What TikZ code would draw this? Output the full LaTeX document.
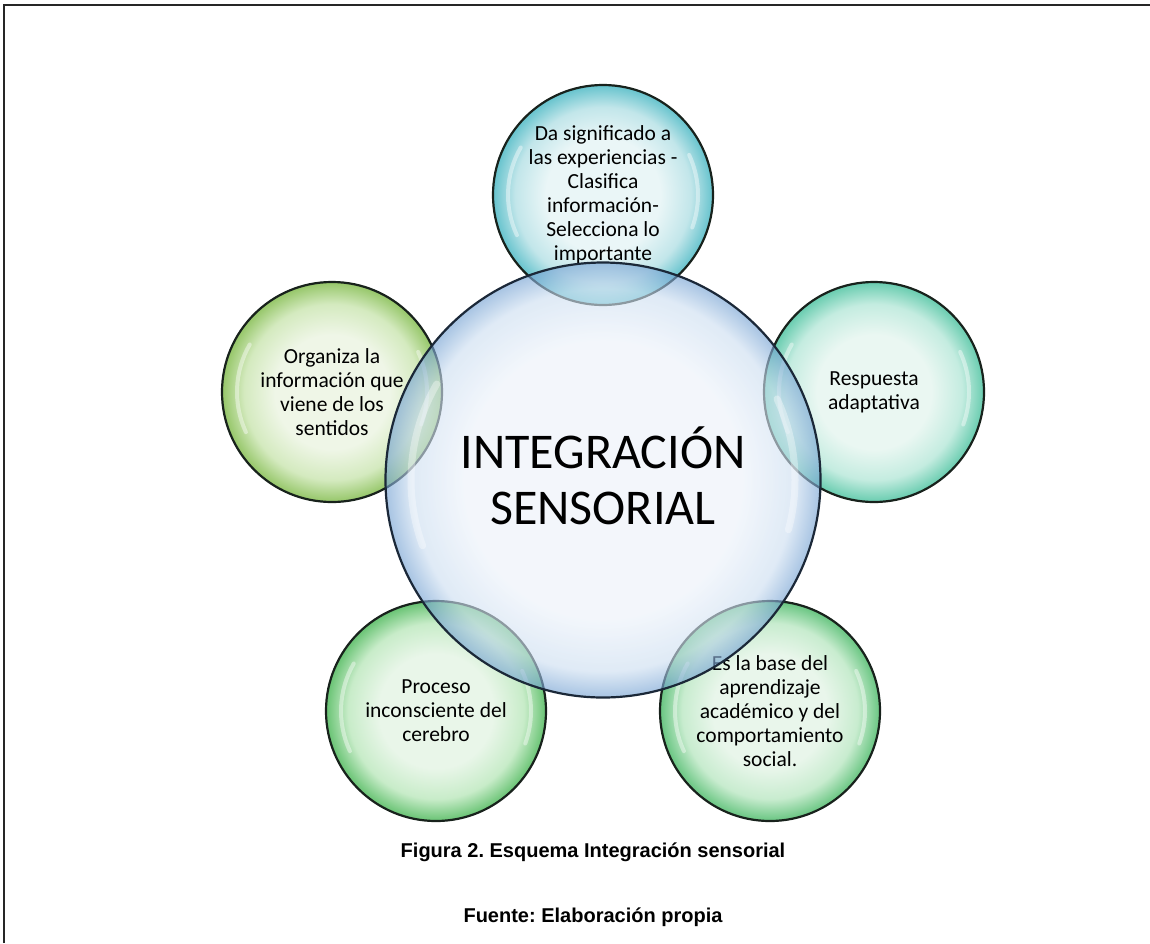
\documentclass[tikz,border=0pt]{standalone}
\usepackage{fontspec}
\setmainfont{Carlito}
\newfontfamily\captionfont{Liberation Sans}
\usetikzlibrary{calc}
\frenchspacing

% bubble colours: centre / middle / rim
\definecolor{topC}{HTML}{EAF6F7}\definecolor{topM}{HTML}{C2E6EA}\definecolor{topR}{HTML}{66C3CD}
\definecolor{rgtC}{HTML}{EAF7F2}\definecolor{rgtM}{HTML}{C4ECE0}\definecolor{rgtR}{HTML}{68CCAF}
\definecolor{lftC}{HTML}{EFF6E7}\definecolor{lftM}{HTML}{D4EABF}\definecolor{lftR}{HTML}{95C668}
\definecolor{blC}{HTML}{E9F6E9}\definecolor{blM}{HTML}{C8ECC9}\definecolor{blR}{HTML}{68C373}
\definecolor{brC}{HTML}{E9F6EB}\definecolor{brM}{HTML}{C8ECCF}\definecolor{brR}{HTML}{68C581}
\definecolor{corC}{HTML}{ECF2FA}\definecolor{corM}{HTML}{CCDEF1}\definecolor{corR}{HTML}{72A0D2}
\definecolor{rimline}{HTML}{18221C}
\definecolor{coreline}{HTML}{1B2838}

% radial bubbles: TikZ maps 25bp onto the rim of the circle
\pgfdeclareradialshading{bubTop}{\pgfpoint{0bp}{0bp}}{color(0bp)=(topC);color(13bp)=(topC);color(20bp)=(topM);color(25bp)=(topR);color(50bp)=(topR)}
\pgfdeclareradialshading{bubRgt}{\pgfpoint{0bp}{0bp}}{color(0bp)=(rgtC);color(13bp)=(rgtC);color(20bp)=(rgtM);color(25bp)=(rgtR);color(50bp)=(rgtR)}
\pgfdeclareradialshading{bubLft}{\pgfpoint{0bp}{0bp}}{color(0bp)=(lftC);color(13bp)=(lftC);color(20bp)=(lftM);color(25bp)=(lftR);color(50bp)=(lftR)}
\pgfdeclareradialshading{bubBL}{\pgfpoint{0bp}{0bp}}{color(0bp)=(blC);color(13bp)=(blC);color(20bp)=(blM);color(25bp)=(blR);color(50bp)=(blR)}
\pgfdeclareradialshading{bubBR}{\pgfpoint{0bp}{0bp}}{color(0bp)=(brC);color(13bp)=(brC);color(20bp)=(brM);color(25bp)=(brR);color(50bp)=(brR)}
\pgfdeclareradialshading{bubCore}{\pgfpoint{0bp}{0bp}}{color(0bp)=(corC);color(16bp)=(corC);color(22bp)=(corM);color(25bp)=(corR);color(50bp)=(corR)}

\newcommand\bubtext{\fontsize{21.5}{24}\selectfont}
\newcommand\coretext{\fontsize{50}{56}\selectfont}
\newcommand\captext{\captionfont\bfseries\fontsize{20}{23}\selectfont}

\begin{document}
\begin{tikzpicture}[x=1pt,y=-1pt,
  bubble/.style={circle, minimum size=220pt, inner sep=0pt, draw=rimline,
    line width=2.2pt, align=center, font=\bubtext, text=black},
  hilite/.style={white, line width=4pt, line cap=round, opacity=0.42},
  caption/.style={font=\captext, text=black, inner sep=0pt}]

\useasboundingbox (0,0) rectangle (1150,943);
\fill[white] (0,0) rectangle (1150,943);

% frame of the figure
\draw[line width=2pt, black!85] (4,943) -- (4,5) -- (1150,5);

% satellite bubbles, five around the centre (603,480)
\node[bubble, shading=bubTop] (top) at (603,195)
  {Da significado a\\las experiencias -\\Clasifica\\información-\\Selecciona lo\\importante};
\node[bubble, shading=bubRgt] (rgt) at (874,392) {Respuesta\\adaptativa};
\node[bubble, shading=bubBR] (br) at (770,711)
  {Es la base del\\aprendizaje\\académico y del\\comportamiento\\social.};
\node[bubble, shading=bubBL] (bl) at (436,711) {Proceso\\inconsciente del\\cerebro};
\node[bubble, shading=bubLft] (lft) at (332,392)
  {Organiza la\\información que\\viene de los\\sentidos};

% glossy reflections on the satellites
\foreach \b in {top,rgt,br,bl,lft}{
  \draw[hilite] ($(\b.center)+(-205:95)$) arc[start angle=-205, end angle=-150, radius=95];
  \draw[hilite] ($(\b.center)+(-340:95)$) arc[start angle=-340, end angle=-385, radius=95];
}

% central bubble, translucent over the satellites
\node[circle, minimum size=435pt, inner sep=0pt, shading=bubCore, fill opacity=0.62,
  draw=coreline, draw opacity=1, line width=2.2pt] (core) at (603,480) {};
\draw[hilite, opacity=0.35, line width=7pt] ($(core.center)+(-200:192)$) arc[start angle=-200, end angle=-150, radius=192];
\draw[hilite, opacity=0.35, line width=7pt] ($(core.center)+(-345:192)$) arc[start angle=-345, end angle=-385, radius=192];
\node[align=center, font=\coretext, inner sep=0pt] (coretitle) at (603,476) {INTEGRACIÓN\\SENSORIAL};

% caption
\node[caption] (cap1) at (593,852) {Figura 2. Esquema Integración sensorial};
\node[caption] (cap2) at (593,917) {Fuente: Elaboración propia};
\end{tikzpicture}
\end{document}
